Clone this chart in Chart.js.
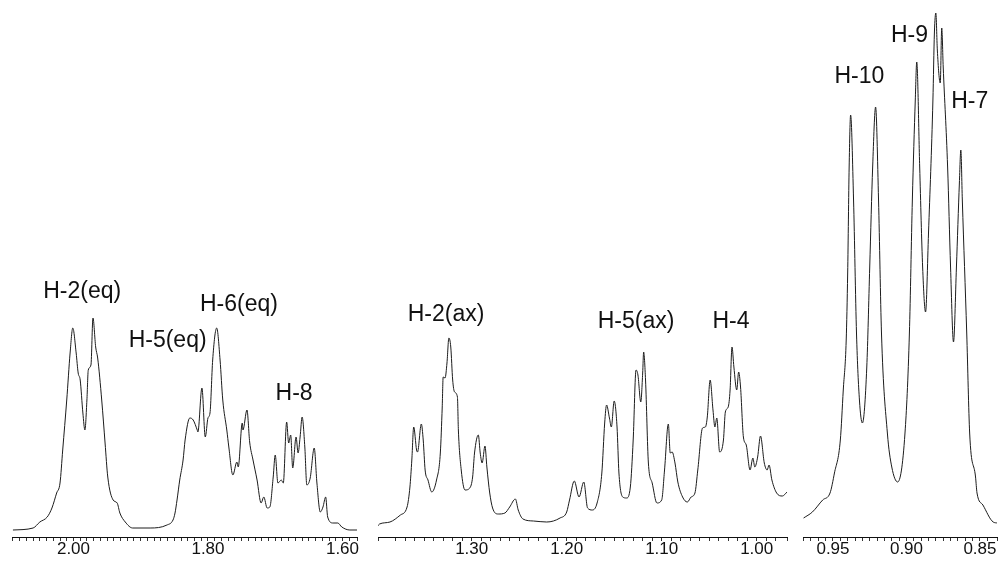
<!DOCTYPE html>
<html><head><meta charset="utf-8">
<script src="https://cdn.jsdelivr.net/npm/chart.js@4/dist/chart.umd.min.js"></script>
<style>
html,body{margin:0;padding:0;background:#fff;}
#wrap{position:relative;width:1002px;height:563px;overflow:hidden;}
#wrap canvas{position:absolute;left:0;top:0;}
</style></head><body>
<div id="wrap">
<canvas id="p1" width="1002" height="563"></canvas>
<canvas id="p2" width="1002" height="563"></canvas>
<canvas id="p3" width="1002" height="563"></canvas>
</div>
<script>
// ---------- Panel 1: 2.09 - 1.58 ppm ----------
const shift1 = [2.090,2.060,2.050,2.039,2.032,2.025,2.020,2.016,2.010,2.005,2.001,1.996,1.993,1.990,1.986,1.983,1.980,1.978,1.974,1.971,1.967,1.964,1.958,1.953,1.949,1.941,1.935,1.931,1.923,1.912,1.886,1.861,1.852,1.849,1.846,1.842,1.837,1.834,1.827,1.822,1.816,1.815,1.809,1.804,1.800,1.797,1.793,1.787,1.782,1.778,1.772,1.769,1.763,1.757,1.755,1.749,1.748,1.742,1.738,1.733,1.727,1.721,1.717,1.712,1.708,1.703,1.700,1.696,1.691,1.688,1.683,1.680,1.677,1.674,1.669,1.666,1.663,1.660,1.656,1.653,1.648,1.642,1.638,1.633,1.629,1.625,1.622,1.614,1.607,1.601,1.589,1.578];
const intensity1 = [0,2,8,13,22,37,47,80,130,177,202,177,157,150,117,100,130,160,165,212,183,172,130,87,53,30,27,17,8,2,2,5,10,17,30,50,70,90,112,110,100,98,142,93,112,117,170,202,170,130,100,83,55,68,63,107,100,120,88,70,50,27,33,22,23,53,75,47,50,47,108,87,95,62,93,77,93,113,83,45,52,82,47,18,23,33,13,7,7,3,0,0];
const peakNames1 = ["H-2(eq)","H-5(eq)","H-6(eq)","H-8"];
const peakNameShift1 = [1.987,1.860,1.754,1.672];
const peakNameHeight1 = [232,183,219,130];

// ---------- Panel 2: 1.40 - 0.97 ppm ----------
const shift2 = [1.399,1.397,1.386,1.375,1.368,1.365,1.363,1.361,1.358,1.357,1.353,1.351,1.349,1.346,1.342,1.337,1.333,1.331,1.330,1.328,1.326,1.324,1.322,1.320,1.318,1.315,1.314,1.311,1.307,1.302,1.299,1.297,1.293,1.291,1.289,1.286,1.284,1.281,1.278,1.272,1.265,1.260,1.254,1.251,1.246,1.235,1.221,1.207,1.200,1.197,1.192,1.187,1.182,1.178,1.173,1.168,1.163,1.160,1.158,1.155,1.153,1.150,1.147,1.145,1.141,1.137,1.133,1.130,1.127,1.125,1.122,1.120,1.119,1.117,1.114,1.110,1.105,1.100,1.097,1.093,1.091,1.089,1.086,1.083,1.078,1.073,1.069,1.065,1.062,1.057,1.054,1.052,1.049,1.046,1.044,1.042,1.039,1.035,1.033,1.030,1.028,1.026,1.024,1.021,1.019,1.017,1.014,1.011,1.007,1.004,1.002,0.999,0.996,0.992,0.989,0.987,0.984,0.979,0.973,0.968];
const intensity2 = [4,6,8,15,23,43,70,103,80,78,106,90,60,50,38,50,77,123,153,152,167,192,183,150,138,133,100,60,40,42,53,77,95,77,67,84,63,37,22,16,17,23,31,20,11,9,8,12,18,30,49,33,48,22,20,27,57,107,125,112,103,129,103,57,33,32,43,90,160,155,128,157,178,150,67,47,27,30,60,106,77,78,67,48,33,28,33,37,60,102,103,113,150,120,103,112,78,90,118,123,140,183,163,140,158,143,93,85,60,72,63,73,94,67,60,65,50,37,34,38];
const peakNames2 = ["H-2(ax)","H-5(ax)","H-4"];
const peakNameShift2 = [1.327,1.127,1.027];
const peakNameHeight2 = [209,202,202];

// ---------- Panel 3: 0.97 - 0.84 ppm ----------
const shift3 = [0.970,0.964,0.957,0.952,0.949,0.945,0.943,0.941,0.940,0.939,0.938,0.936,0.934,0.932,0.930,0.927,0.925,0.923,0.921,0.919,0.917,0.913,0.910,0.906,0.901,0.898,0.896,0.894,0.893,0.891,0.889,0.887,0.885,0.882,0.881,0.880,0.879,0.877,0.876,0.875,0.872,0.870,0.868,0.866,0.864,0.863,0.862,0.859,0.857,0.853,0.852,0.848,0.841,0.838];
const intensity3 = [12,18,30,37,57,90,140,190,257,363,415,330,197,130,107,163,263,363,423,330,197,97,63,48,97,197,330,430,468,363,263,218,297,430,497,517,480,447,502,463,363,263,188,263,347,380,330,197,97,53,37,25,8,7];
const peakNames3 = ["H-10","H-9","H-7"];
const peakNameShift3 = [0.932,0.898,0.857];
const peakNameHeight3 = [447,488,422];

// axis tick labels
const tickLabels1 = ["2.00","1.80","1.60"];
const tickLabels2 = ["1.30","1.20","1.10","1.00"];
const tickLabels3 = ["0.95","0.90","0.85"];

const labelPlugin = {
  id: 'peakNames',
  afterDatasetsDraw(chart, args, opts) {
    const ctx = chart.ctx, xs = chart.scales.x, ys = chart.scales.y;
    ctx.save();
    ctx.font = '23px "Liberation Sans", Arial, sans-serif';
    ctx.fillStyle = '#111';
    ctx.textAlign = 'center';
    ctx.textBaseline = 'alphabetic';
    opts.names.forEach((n, i) => {
      ctx.fillText(n, xs.getPixelForValue(opts.shifts[i]), ys.getPixelForValue(opts.heights[i]));
    });
    ctx.restore();
  }
};

function makePanel(id, shifts, ints, xmin, xmax, step, tickLabels, padL, padR, names, nShifts, nHeights) {
  const pts = shifts.map((s, i) => ({x: s, y: ints[i]}));
  new Chart(document.getElementById(id), {
    type: 'line',
    data: { datasets: [{ data: pts, borderColor: '#1c1c1c', borderWidth: 1, pointRadius: 0,
      fill: false, cubicInterpolationMode: 'monotone', parsing: false }] },
    plugins: [labelPlugin],
    options: {
      responsive: false, animation: false, events: [],
      layout: { padding: { left: padL, right: padR, top: 10, bottom: 0 } },
      plugins: { legend: {display:false}, tooltip: {enabled:false},
        peakNames: { names: names, shifts: nShifts, heights: nHeights } },
      scales: {
        x: { type: 'linear', reverse: true, min: xmin, max: xmax, position: 'bottom',
          afterFit: (s) => { s.height = 26; },
          border: { display: true, color: '#111', width: 1 },
          grid: { drawOnChartArea: false, drawTicks: true, tickLength: 4, color: '#333' },
          ticks: { stepSize: step, autoSkip: false, maxRotation: 0, padding: -2, color: '#111',
            font: { family: '"Liberation Sans", Arial, sans-serif', size: 17 },
            callback: (v) => { const t = (Math.round(v * 1000) / 1000).toFixed(2);
              return tickLabels.includes(t) && Math.abs(v - parseFloat(t)) < 1e-6 ? t : ''; } } },
        y: { display: false, min: -7, max: 520 }
      }
    }
  });
}

makePanel('p1', shift1, intensity1, 1.5784, 2.0914, 0.01, tickLabels1, 12, 645, peakNames1, peakNameShift1, peakNameHeight1);
makePanel('p2', shift2, intensity2, 0.9681, 1.3986, 0.01, tickLabels2, 378, 215, peakNames2, peakNameShift2, peakNameHeight2);
makePanel('p3', shift3, intensity3, 0.8384, 0.9704, 0.005, tickLabels3, 803, 5, peakNames3, peakNameShift3, peakNameHeight3);
</script>
</body></html>
